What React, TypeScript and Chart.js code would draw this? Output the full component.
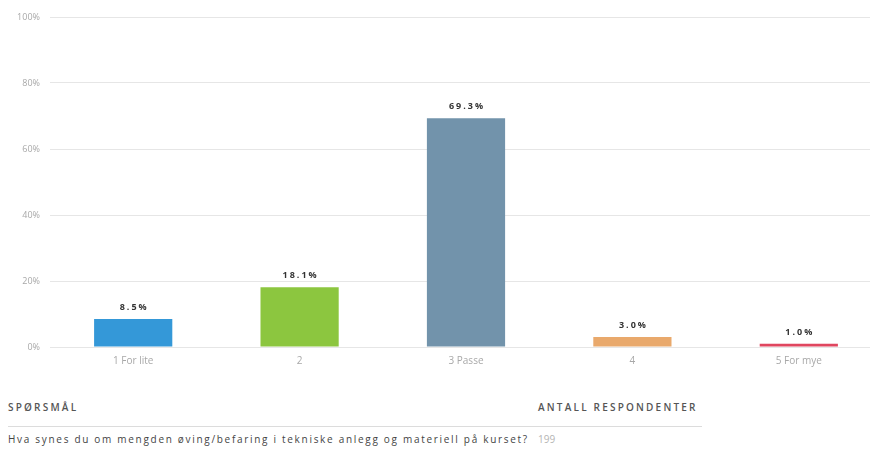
import React, { useEffect, useRef } from "react";
import { Chart, registerables } from "chart.js";

Chart.register(...registerables);

const categories = ["1 For lite", "2", "3 Passe", "4", "5 For mye"];
const values = [8.5, 18.1, 69.3, 3.0, 1.0];
const valueLabels = ["8.5%", "18.1%", "69.3%", "3.0%", "1.0%"];
const barColors = ["#3498d8", "#8cc63f", "#7293ab", "#e9a96c", "#e0465f"];
const yTicks = [0, 20, 40, 60, 80, 100];

const questionHeader = "SPØRSMÅL";
const countHeader = "ANTALL RESPONDENTER";
const questionText = "Hva synes du om mengden øving/befaring i tekniske anlegg og materiell på kurset?";
const respondents = "199";

const valueLabelPlugin = {
  id: "valueLabels",
  afterDatasetsDraw(chart: any) {
    const ctx = chart.ctx;
    const meta = chart.getDatasetMeta(0);
    ctx.save();
    ctx.font = "bold 9px 'Open Sans', sans-serif";
    (ctx as any).letterSpacing = "2px";
    ctx.fillStyle = "#333";
    ctx.textAlign = "center";
    ctx.textBaseline = "bottom";
    meta.data.forEach((bar: any, i: number) => {
      ctx.fillText(valueLabels[i], bar.x + 1, bar.y - 7);
    });
    ctx.restore();
  },
};

export default function App() {
  const ref = useRef<HTMLCanvasElement>(null);
  useEffect(() => {
    document.body.style.margin = "0";
    document.body.style.overflow = "hidden";
    const chart = new Chart(ref.current!, {
      type: "bar",
      data: {
        labels: categories,
        datasets: [
          {
            data: values,
            backgroundColor: barColors,
            barPercentage: 0.47,
            categoryPercentage: 1,
          },
        ],
      },
      options: {
        animation: false,
        responsive: false,
        maintainAspectRatio: false,
        layout: { padding: { top: 17, right: 0, left: 0, bottom: 0 } },
        plugins: { legend: { display: false }, tooltip: { enabled: false } },
        scales: {
          x: {
            grid: { display: false, drawTicks: false },
            border: { display: false },
            ticks: {
              color: "#a8a8a8",
              font: { size: 10, family: "'Open Sans', sans-serif" },
              padding: 8,
            },
            afterFit: (s: any) => {
              s.height = 28;
            },
          },
          y: {
            min: 0,
            max: 100,
            afterBuildTicks: (s: any) => {
              s.ticks = yTicks.map((v) => ({ value: v }));
            },
            grid: { color: "#e6e6e6", drawTicks: false },
            border: { display: false },
            ticks: {
              color: "#a8a8a8",
              font: { size: 9, family: "'Open Sans', sans-serif" },
              padding: 10,
              callback: (v: any) => v + "%",
            },
            afterFit: (s: any) => {
              s.width = 50;
            },
          },
        },
      },
      plugins: [valueLabelPlugin],
    });
    return () => chart.destroy();
  }, []);

  const headStyle: React.CSSProperties = {
    position: "absolute",
    top: 400,
    fontFamily: "'Open Sans', sans-serif",
    fontSize: 10,
    letterSpacing: 2.2,
    color: "#555",
    fontWeight: 600,
  };
  return (
    <div style={{ position: "absolute", left: 0, top: 0, width: 870, height: 454, overflow: "hidden", background: "#fff" }}>
      <canvas ref={ref} width={882} height={375} style={{ position: "absolute", left: 0, top: 0 }} />
      <div style={{ ...headStyle, left: 8 }}>{questionHeader}</div>
      <div style={{ ...headStyle, left: 538 }}>{countHeader}</div>
      <div style={{ position: "absolute", left: 8, top: 426, width: 694, height: 1, background: "#dcdcdc" }} />
      <div
        style={{
          position: "absolute",
          left: 8,
          top: 432,
          fontFamily: "'Open Sans', sans-serif",
          fontSize: 10,
          letterSpacing: 1.7,
          color: "#444",
        }}
      >
        {questionText}
      </div>
      <div
        style={{
          position: "absolute",
          left: 538,
          top: 432,
          fontFamily: "'Open Sans', sans-serif",
          fontSize: 10,
          color: "#b5b5b5",
        }}
      >
        {respondents}
      </div>
    </div>
  );
}
